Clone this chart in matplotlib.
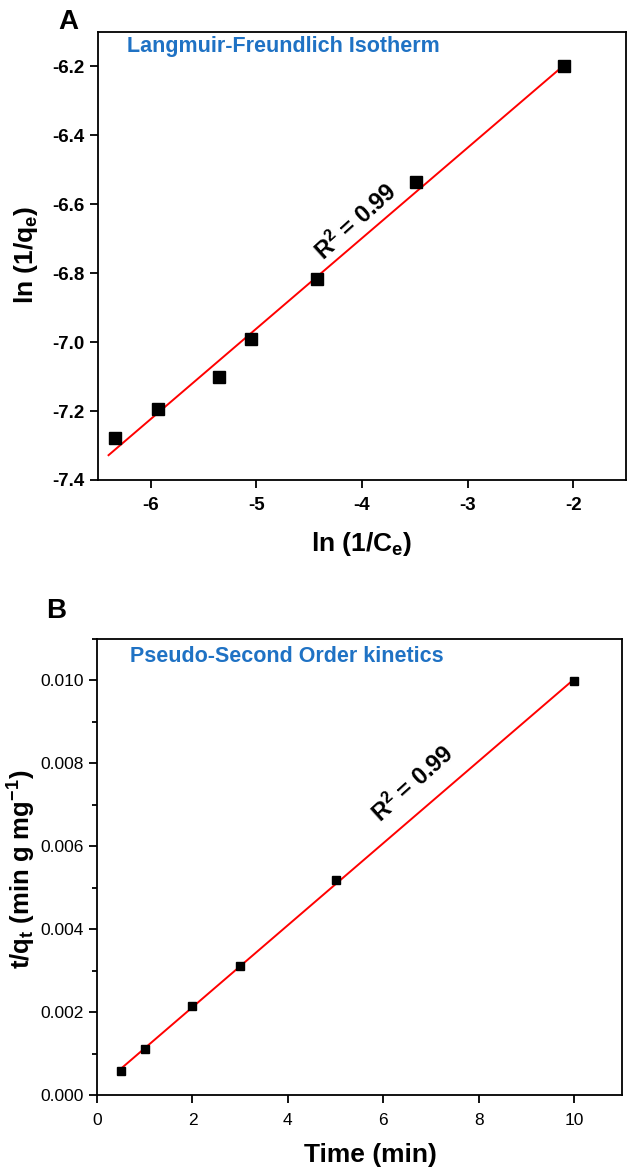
import matplotlib
matplotlib.use("Agg")
import matplotlib.pyplot as plt
import numpy as np
from matplotlib.ticker import MultipleLocator

plt.rcParams['font.family'] = ['Liberation Sans', 'DejaVu Sans']
plt.rcParams['mathtext.default'] = 'regular'

# panel A: Langmuir-Freundlich isotherm
ln_inv_ce = [-6.34, -5.93, -5.35, -5.05, -4.43, -3.49, -2.09]
ln_inv_qe = [-7.279, -7.193, -7.102, -6.991, -6.817, -6.536, -6.198]

# panel B: pseudo-second order kinetics
time_min = [0.5, 1, 2, 3, 5, 10]
t_over_qt = [0.00057, 0.00110, 0.00215, 0.00312, 0.00519, 0.00998]

blue = '#1f72c4'

fig = plt.figure(figsize=(6.27, 11.67), dpi=100)
axA = fig.add_axes([0.1563, 0.5887, 0.8421, 0.3839])
axB = fig.add_axes([0.1547, 0.0617, 0.8373, 0.3907])

for ax in (axA, axB):
    for s in ax.spines.values():
        s.set_linewidth(1.3)
    ax.tick_params(direction='out', length=6, width=1.3, top=False, right=False)
    ax.tick_params(which='minor', direction='out', length=3.5, width=1.3)

# ---- A ----
kA = np.polyfit(ln_inv_ce, ln_inv_qe, 1)
xa = np.array([-6.40, -2.09])
axA.plot(xa, np.polyval(kA, xa), color='red', lw=1.4, zorder=2)
axA.plot(ln_inv_ce, ln_inv_qe, 's', color='black', ms=8.5, zorder=3)
axA.set_xlim(-6.5, -1.5)
axA.set_ylim(-7.4, -6.1)
axA.set_xticks([-6, -5, -4, -3, -2])
axA.set_xticklabels(['-6', '-5', '-4', '-3', '-2'])
axA.set_yticks([-7.4, -7.2, -7.0, -6.8, -6.6, -6.4, -6.2])
axA.set_yticklabels(['-7.4', '-7.2', '-7.0', '-6.8', '-6.6', '-6.4', '-6.2'])
axA.tick_params(axis='x', pad=6.5)
for lab in axA.get_xticklabels() + axA.get_yticklabels():
    lab.set_fontsize(13.5)
    lab.set_fontweight('bold')
axA.set_xlabel('ln (1/C$_e$)', fontsize=19, fontweight='bold', va='center')
axA.xaxis.set_label_coords(0.499, -0.142)
axA.set_ylabel('ln (1/q$_e$)', fontsize=19, fontweight='bold', va='center')
axA.yaxis.set_label_coords(-0.136, 0.502)
axA.text(-6.23, -6.142, 'Langmuir-Freundlich Isotherm', color=blue,
         fontsize=15.5, fontweight='bold', va='center', ha='left')
axA.text(-4.06, -6.651, 'R$^2$ = 0.99', fontsize=17, fontweight='bold',
         rotation=42, ha='center', va='center')
fig.text(68 / 627, 1 - 22 / 1167, 'A', fontsize=20, fontweight='bold',
         ha='center', va='center')

# ---- B ----
kB = np.polyfit(time_min, t_over_qt, 1)
xb = np.array([0.5, 10])
axB.plot(xb, np.polyval(kB, xb), color='red', lw=1.4, zorder=2)
axB.plot(time_min, t_over_qt, 's', color='black', ms=6.3, zorder=3)
axB.set_xlim(0, 11)
axB.set_ylim(0, 0.011)
axB.set_xticks([0, 2, 4, 6, 8, 10])
axB.set_yticks([0.000, 0.002, 0.004, 0.006, 0.008, 0.010])
axB.set_yticklabels(['0.000', '0.002', '0.004', '0.006', '0.008', '0.010'])
axB.yaxis.set_minor_locator(MultipleLocator(0.001))
axB.tick_params(axis='x', pad=7)
for lab in axB.get_xticklabels() + axB.get_yticklabels():
    lab.set_fontsize(12.5)
axB.set_xlabel('Time (min)', fontsize=19, fontweight='bold', va='center')
axB.xaxis.set_label_coords(0.52, -0.1316)
axB.set_ylabel('t/q$_t$ (min g mg$^{-1}$)', fontsize=18.5, fontweight='bold', va='center')
axB.yaxis.set_label_coords(-0.143, 0.496)
axB.text(0.69, 0.01059, 'Pseudo-Second Order kinetics', color=blue,
         fontsize=15.5, fontweight='bold', va='center', ha='left')
axB.text(6.63, 0.0075, 'R$^2$ = 0.99', fontsize=17, fontweight='bold',
         rotation=42, ha='center', va='center')
fig.text(56 / 627, 1 - 611 / 1167, 'B', fontsize=20, fontweight='bold',
         ha='center', va='center')

fig.savefig('out.png', dpi=100)
